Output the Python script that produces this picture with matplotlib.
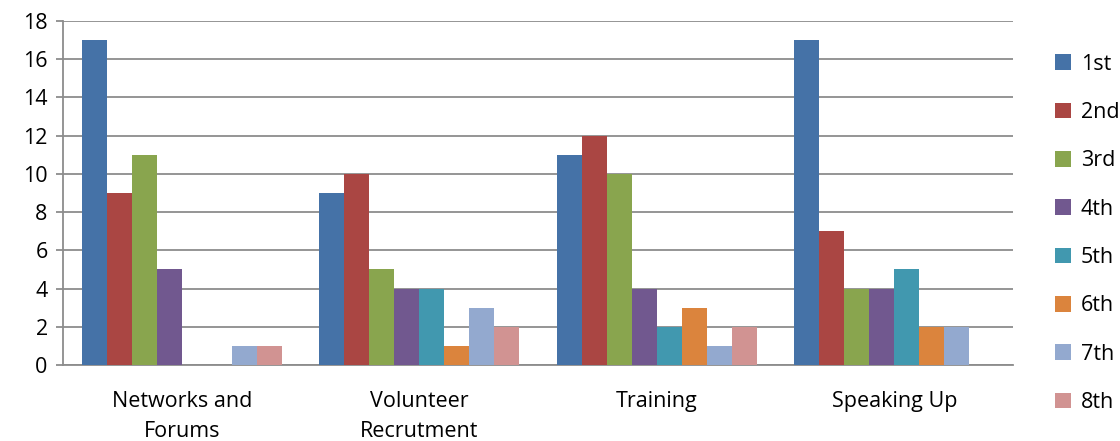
import numpy as np
import matplotlib.pyplot as plt

categories = ['Networks and\nForums', 'Volunteer\nRecrutment', 'Training', 'Speaking Up']
series_names = ['1st', '2nd', '3rd', '4th', '5th', '6th', '7th', '8th']
values = [
    [17, 9, 11, 5, 0, 0, 1, 1],
    [9, 10, 5, 4, 4, 1, 3, 2],
    [11, 12, 10, 4, 2, 3, 1, 2],
    [17, 7, 4, 4, 5, 2, 2, 0],
]
colors = ['#4572A7', '#AA4643', '#89A54E', '#71588F',
          '#4198AF', '#DB843D', '#93A9CF', '#D19392']

plt.rcParams['font.family'] = ['Open Sans', 'DejaVu Sans']
fs = 15.5

fig = plt.figure(figsize=(11.2, 4.41), dpi=100)
ax = fig.add_axes([63 / 1120, 1 - 365 / 441, (1013 - 63) / 1120, (365 - 21) / 441])

data = np.array(values)
x = np.arange(len(categories))
n = len(series_names)
bw = 0.842 / n
for i in range(n):
    ax.bar(x - 0.421 + bw * (i + 0.5), data[:, i], width=bw, color=colors[i],
           label=series_names[i], zorder=3, linewidth=0)

ax.set_xlim(-0.5, len(categories) - 0.5)
ax.set_ylim(0, 18)
ax.set_yticks(range(0, 19, 2))
ax.yaxis.grid(True, color='#8c8c8c', linewidth=1.3, zorder=0)
ax.set_axisbelow(True)
for s in ['top', 'right']:
    ax.spines[s].set_visible(False)
for s in ['left', 'bottom']:
    ax.spines[s].set_color('#8c8c8c')
    ax.spines[s].set_linewidth(1.3)
ax.tick_params(axis='y', length=5, color='#8c8c8c', width=1.3, labelsize=fs, pad=6)
ax.tick_params(axis='x', length=0, labelsize=fs, pad=19)
ax.set_xticks(x)
ax.set_xticklabels(categories, linespacing=1.55)

leg = ax.legend(loc='upper left', bbox_to_anchor=(1.035, 0.93), frameon=False,
                fontsize=fs, handlelength=0.75, handleheight=0.75,
                handletextpad=0.45, labelspacing=1.27, borderaxespad=0)

fig.savefig('out.png', dpi=100)
